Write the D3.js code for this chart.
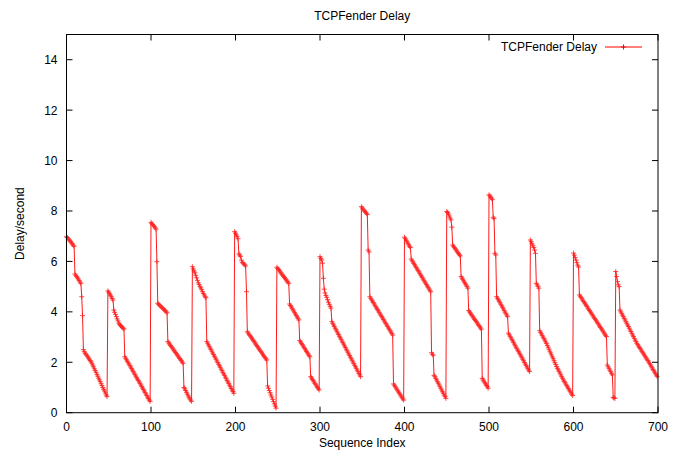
<!DOCTYPE html>
<html>
<head>
<meta charset="utf-8">
<script src="https://cdn.jsdelivr.net/npm/d3@7"></script>
<style>
  body { margin: 0; background: #fff; }
  text { font-family: "Liberation Sans", Arial, Helvetica, sans-serif; font-size: 12px; fill: #000; }
</style>
</head>
<body>
<div id="chart"></div>
<script>
// delay values, one per sequence index, split at each jump (sawtooth cycles)
const cycle0 = [6.98,6.95,6.9,6.86,6.82,6.78,6.73,6.69,6.64,6.6,
  5.5,5.45,5.4,5.35,5.3,5.24,5.18,5.13,4.6,3.85,2.5,2.42,2.36,2.32,2.28,
  2.22,2.17,2.12,2.07,2.02,1.96,1.89,1.82,1.74,1.67,1.6,1.52,1.45,1.37,1.3,
  1.23,1.15,1.08,1.0,0.93,0.86,0.78,0.7,0.64];
const cycle1 = [4.83,4.78,4.72,4.66,4.6,4.53,4.47,4.07,3.98,3.9,3.81,3.72,3.64,3.55,
  3.5,3.46,3.42,3.38,3.35,3.32,2.22,2.16,2.1,2.04,1.98,1.93,1.87,1.81,1.75,1.69,
  1.63,1.57,1.51,1.45,1.39,1.33,1.28,1.22,1.16,1.1,1.04,0.98,0.92,0.86,0.8,0.74,
  0.68,0.62,0.56,0.5,0.45];
const cycle2 = [7.55,7.5,7.46,7.42,7.38,7.33,7.28,5.99,4.34,4.3,4.27,4.24,4.2,4.17,
  4.14,4.1,4.07,4.04,4.0,3.96,2.82,2.77,2.72,2.67,2.63,2.58,2.53,2.48,2.44,2.39,
  2.34,2.29,2.25,2.2,2.15,2.1,2.06,2.01,1.96,1.0,0.95,0.88,0.81,0.74,0.67,0.61,
  0.55,0.5,0.45];
const cycle3 = [5.79,5.7,5.62,5.55,5.45,5.35,5.25,5.15,5.08,5.0,4.95,4.88,4.8,4.73,
  4.67,4.6,4.56,2.82,2.76,2.69,2.63,2.56,2.5,2.44,2.37,2.31,2.24,2.18,2.12,2.05,
  1.99,1.92,1.86,1.8,1.73,1.67,1.6,1.54,1.48,1.41,1.35,1.28,1.22,1.16,1.09,1.03,
  0.96,0.9,0.84,0.77];
const cycle4 = [7.18,7.12,7.05,6.98,6.9,6.3,6.25,6.2,6.05,5.96,5.93,5.9,5.86,5.82,
  4.8,3.21,3.16,3.11,3.06,3.01,2.97,2.92,2.87,2.82,2.77,2.72,2.67,2.62,2.57,2.52,
  2.48,2.43,2.38,2.33,2.28,2.23,2.18,2.14,2.09,1.06,0.97,0.88,0.79,0.7,0.62,0.53,
  0.44,0.35,0.26,0.18];
const cycle5 = [5.77,5.72,5.68,5.63,5.58,5.54,5.49,5.45,5.4,5.36,5.31,5.27,5.22,5.18,
  5.13,4.31,4.25,4.2,4.14,4.08,4.03,3.97,3.91,3.85,3.8,3.74,3.68,2.86,2.81,2.75,
  2.7,2.65,2.59,2.54,2.49,2.43,2.38,2.33,2.27,2.22,1.43,1.38,1.32,1.27,1.22,1.16,
  1.11,1.06,1.0,0.95,0.9];
const cycle6 = [6.19,6.12,6.06,5.93,5.33,4.9,4.75,4.65,4.58,4.48,4.38,4.3,4.22,4.15,
  3.61,3.55,3.48,3.42,3.35,3.29,3.23,3.16,3.1,3.03,2.97,2.91,2.84,2.78,2.72,2.65,
  2.59,2.52,2.46,2.4,2.33,2.27,2.2,2.14,2.08,2.01,1.95,1.88,1.82,1.76,1.69,1.63,
  1.56,1.5,1.43];
const cycle7 = [8.17,8.12,8.07,8.03,7.99,7.95,7.91,7.86,6.45,6.38,4.6,4.54,4.48,4.43,
  4.37,4.32,4.26,4.2,4.15,4.09,4.04,3.98,3.92,3.87,3.81,3.76,3.7,3.64,3.59,3.53,
  3.48,3.42,3.36,3.31,3.25,3.2,3.14,3.08,1.14,1.09,1.03,0.98,0.93,0.87,0.82,0.77,
  0.71,0.66,0.61,0.55,0.5];
const cycle8 = [6.96,6.9,6.84,6.78,6.72,6.66,6.6,6.55,6.09,6.03,5.98,5.92,5.87,5.81,
  5.75,5.7,5.64,5.59,5.53,5.47,5.42,5.36,5.3,5.25,5.19,5.14,5.08,5.02,4.97,4.91,
  4.86,4.8,2.38,2.32,2.28,1.48,1.43,1.36,1.3,1.23,1.17,1.1,1.03,0.97,0.9,0.83,
  0.77,0.7,0.64,0.57];
const cycle9 = [7.98,7.94,7.88,7.8,7.72,7.65,7.36,6.65,6.6,6.55,6.5,6.46,6.41,6.36,
  6.31,6.26,6.22,5.4,5.34,5.29,5.23,5.17,5.11,5.06,5.0,4.94,4.05,4.0,3.95,3.9,
  3.85,3.8,3.75,3.7,3.66,3.61,3.56,3.51,3.46,3.41,3.36,3.31,1.36,1.3,1.25,1.19,
  1.14,1.08,1.03,0.97];
const cycle10 = [8.64,8.6,8.55,8.51,8.45,7.75,7.7,6.32,6.26,4.6,4.54,4.48,4.42,4.36,
  4.3,4.24,4.18,4.12,4.05,3.99,3.93,3.87,3.81,3.15,3.09,3.03,2.97,2.91,2.85,2.79,
  2.72,2.66,2.6,2.54,2.48,2.42,2.36,2.3,2.24,2.18,2.12,2.06,1.99,1.93,1.87,1.81,
  1.75,1.69,1.63];
const cycle11 = [6.85,6.78,6.7,6.62,6.55,6.45,6.32,5.13,5.07,5.01,4.94,3.25,3.19,3.13,
  3.06,3.0,2.94,2.88,2.81,2.75,2.67,2.6,2.52,2.44,2.37,2.29,2.21,2.14,2.06,1.98,
  1.91,1.83,1.76,1.7,1.63,1.57,1.5,1.43,1.37,1.3,1.24,1.19,1.13,1.07,1.02,0.96,
  0.9,0.85,0.79,0.73,0.68];
const cycle12 = [6.33,6.25,6.15,6.05,5.95,5.85,5.78,4.67,4.62,4.57,4.52,4.46,4.41,4.36,
  4.31,4.26,4.21,4.15,4.1,4.05,4.0,3.95,3.9,3.84,3.79,3.74,3.69,3.64,3.59,3.54,
  3.48,3.43,3.38,3.33,3.28,3.23,3.17,3.12,3.07,3.02,1.89,1.82,1.76,1.69,1.63,1.56,
  1.5,0.6,0.58,0.57];
const cycle13 = [5.6,5.4,5.2,5.07,5.0,4.07,4.0,3.94,3.87,3.81,3.74,3.68,3.61,3.55,
  3.48,3.42,3.35,3.28,3.22,3.15,3.08,3.02,2.95,2.88,2.82,2.75,2.7,2.64,2.59,2.54,
  2.49,2.43,2.38,2.33,2.28,2.22,2.17,2.12,2.07,2.01,1.96,1.9,1.84,1.78,1.72,1.67,
  1.61,1.55,1.49,1.43];

const xTicks = [0, 100, 200, 300, 400, 500, 600, 700];
const yTicks = [0, 2, 4, 6, 8, 10, 12, 14];

const delay = [].concat(cycle0, cycle1, cycle2, cycle3, cycle4, cycle5, cycle6,
  cycle7, cycle8, cycle9, cycle10, cycle11, cycle12, cycle13);
const points = delay.map((v, i) => ({i: i, v: v}));

const W = 687, H = 455;
const mLeft = 66.5, mRight = 658, mTop = 34.5, mBottom = 412.7;

const svg = d3.select("#chart").append("svg").attr("width", W).attr("height", H);

const x = d3.scaleLinear().domain([0, 700]).range([mLeft, mRight]);
const y = d3.scaleLinear().domain([0, 15]).range([mBottom, mTop]);

// ticks (gnuplot style: inward, mirrored)
const tl = 6;
const ax = svg.append("g").attr("stroke", "#000").attr("stroke-width", 1);
xTicks.forEach(t => {
  ax.append("line").attr("x1", x(t)).attr("x2", x(t)).attr("y1", mBottom).attr("y2", mBottom - tl);
  ax.append("line").attr("x1", x(t)).attr("x2", x(t)).attr("y1", mTop).attr("y2", mTop + tl);
});
yTicks.forEach(t => {
  ax.append("line").attr("x1", mLeft).attr("x2", mLeft + tl).attr("y1", y(t)).attr("y2", y(t));
  ax.append("line").attr("x1", mRight).attr("x2", mRight - tl).attr("y1", y(t)).attr("y2", y(t));
});

svg.append("g").selectAll("text").data(xTicks).enter().append("text")
  .attr("x", d => x(d)).attr("y", mBottom + 18).attr("text-anchor", "middle").text(d => d);
svg.append("g").selectAll("text").data(yTicks).enter().append("text")
  .attr("x", mLeft - 9).attr("y", d => y(d) + 4.5).attr("text-anchor", "end").text(d => d);

// data
const line = d3.line().x(d => x(d.i)).y(d => y(d.v));
svg.append("path").datum(points).attr("d", line)
  .attr("fill", "none").attr("stroke", "#ff0000").attr("stroke-width", 0.9);

const ps = 2.5;
svg.append("g").attr("stroke", "#ff2020").attr("stroke-width", 0.8)
  .selectAll("path").data(points).enter().append("path")
  .attr("d", d => `M${x(d.i) - ps},${y(d.v)}h${2 * ps}M${x(d.i)},${y(d.v) - ps}v${2 * ps}`);

// border
svg.append("rect").attr("x", mLeft).attr("y", mTop)
  .attr("width", mRight - mLeft).attr("height", mBottom - mTop)
  .attr("fill", "none").attr("stroke", "#000").attr("stroke-width", 1);

// title, labels
svg.append("text").attr("x", (mLeft + mRight) / 2).attr("y", 20)
  .attr("text-anchor", "middle").text("TCPFender Delay");
svg.append("text").attr("x", (mLeft + mRight) / 2).attr("y", 447)
  .attr("text-anchor", "middle").text("Sequence Index");
svg.append("text").attr("transform", `translate(24,${(mTop + mBottom) / 2}) rotate(-90)`)
  .attr("text-anchor", "middle").text("Delay/second");

// legend
const lg = svg.append("g");
lg.append("text").attr("x", 597).attr("y", 51).attr("text-anchor", "end").text("TCPFender Delay");
lg.append("line").attr("x1", 605).attr("x2", 642).attr("y1", 47).attr("y2", 47)
  .attr("stroke", "#ff0000").attr("stroke-width", 1);
lg.append("path").attr("d", `M${623.5 - ps},47h${2 * ps}M623.5,${47 - ps}v${2 * ps}`)
  .attr("stroke", "#ff0000").attr("stroke-width", 1);
</script>
</body>
</html>
